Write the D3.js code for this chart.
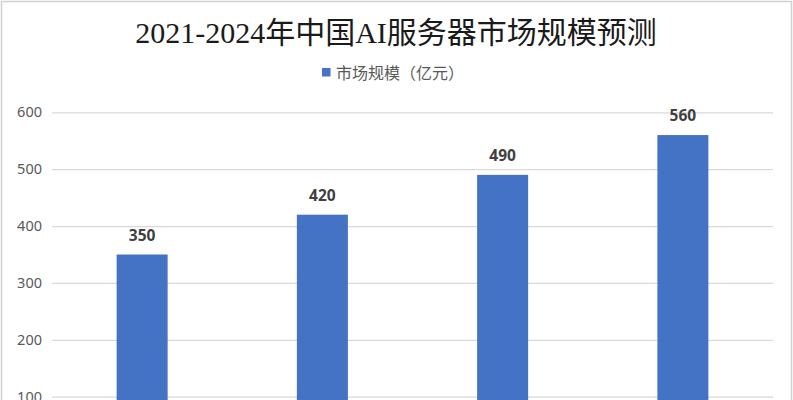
<!DOCTYPE html>
<html>
<head>
<meta charset="utf-8">
<script src="https://cdn.jsdelivr.net/npm/d3@7"></script>
<style>
  body { margin: 0; background: #fff; }
  svg { display: block; }
</style>
</head>
<body>
<div id="chart"></div>
<script>
// Chart data
const years = ["2021", "2022", "2023", "2024"];
const marketSize = [350, 420, 490, 560];
const yTicks = [100, 200, 300, 400, 500, 600];
const titleText = "2021-2024年中国AI服务器市场规模预测";
const seriesName = "市场规模（亿元）";

const W = 793, H = 400;
const plot = {left: 52, right: 773, top: 112.3, zero: 453.6};

const svg = d3.select("#chart")
    .append("svg")
    .attr("width", W)
    .attr("height", H);

// outer frame
svg.append("rect")
    .attr("x", 1.5).attr("y", 1.5)
    .attr("width", W - 3).attr("height", H + 10)
    .attr("fill", "#fff")
    .attr("stroke", "#d0d0d0")
    .attr("stroke-width", 1.5);

// Scales
const x = d3.scaleBand()
    .domain(years)
    .range([plot.left, plot.right])
    .paddingInner(0.717)
    .paddingOuter(0.3585);

const y = d3.scaleLinear()
    .domain([0, 600])
    .range([plot.zero, plot.top]);

// Gridlines + y labels
const yAxis = svg.append("g")
    .attr("transform", `translate(${plot.left},0)`)
    .call(d3.axisLeft(y)
        .tickValues(yTicks)
        .tickSize(-(plot.right - plot.left))
        .tickPadding(10));

yAxis.select(".domain").remove();
yAxis.selectAll(".tick line")
    .attr("stroke", "#d9d9d9")
    .attr("stroke-width", 1.2);
yAxis.selectAll(".tick text")
    .attr("fill", "#595959")
    .style("font-family", "'Noto Sans', 'Noto Sans CJK SC', sans-serif")
    .style("font-size", "14.5px");

// Bars
svg.append("g")
    .selectAll("rect")
    .data(years)
    .join("rect")
    .attr("x", d => x(d))
    .attr("y", (d, i) => y(marketSize[i]))
    .attr("width", x.bandwidth())
    .attr("height", (d, i) => y(0) - y(marketSize[i]))
    .attr("fill", "#4472c4");

// Value labels
svg.append("g")
    .selectAll("text")
    .data(years)
    .join("text")
    .attr("x", d => x(d) + x.bandwidth() / 2)
    .attr("y", (d, i) => y(marketSize[i]) - 14)
    .attr("text-anchor", "middle")
    .attr("fill", "#404040")
    .style("font-family", "'Noto Sans', 'Noto Sans CJK SC', sans-serif")
    .style("font-size", "15.5px")
    .style("font-weight", "bold")
    .text((d, i) => marketSize[i]);

// Title
svg.append("text")
    .attr("x", 396)
    .attr("y", 43)
    .attr("text-anchor", "middle")
    .attr("fill", "#1a1a1a")
    .style("font-family", "'Liberation Serif', 'Noto Sans CJK SC', serif")
    .style("font-size", "30px")
    .text(titleText);

// Legend
const legend = svg.append("g");
legend.append("rect")
    .attr("x", 322).attr("y", 68)
    .attr("width", 8.5).attr("height", 8.5)
    .attr("fill", "#4472c4");
legend.append("text")
    .attr("x", 336)
    .attr("y", 78.5)
    .attr("fill", "#595959")
    .style("font-family", "'Noto Sans CJK SC', sans-serif")
    .style("font-size", "16px")
    .text(seriesName);
</script>
</body>
</html>
